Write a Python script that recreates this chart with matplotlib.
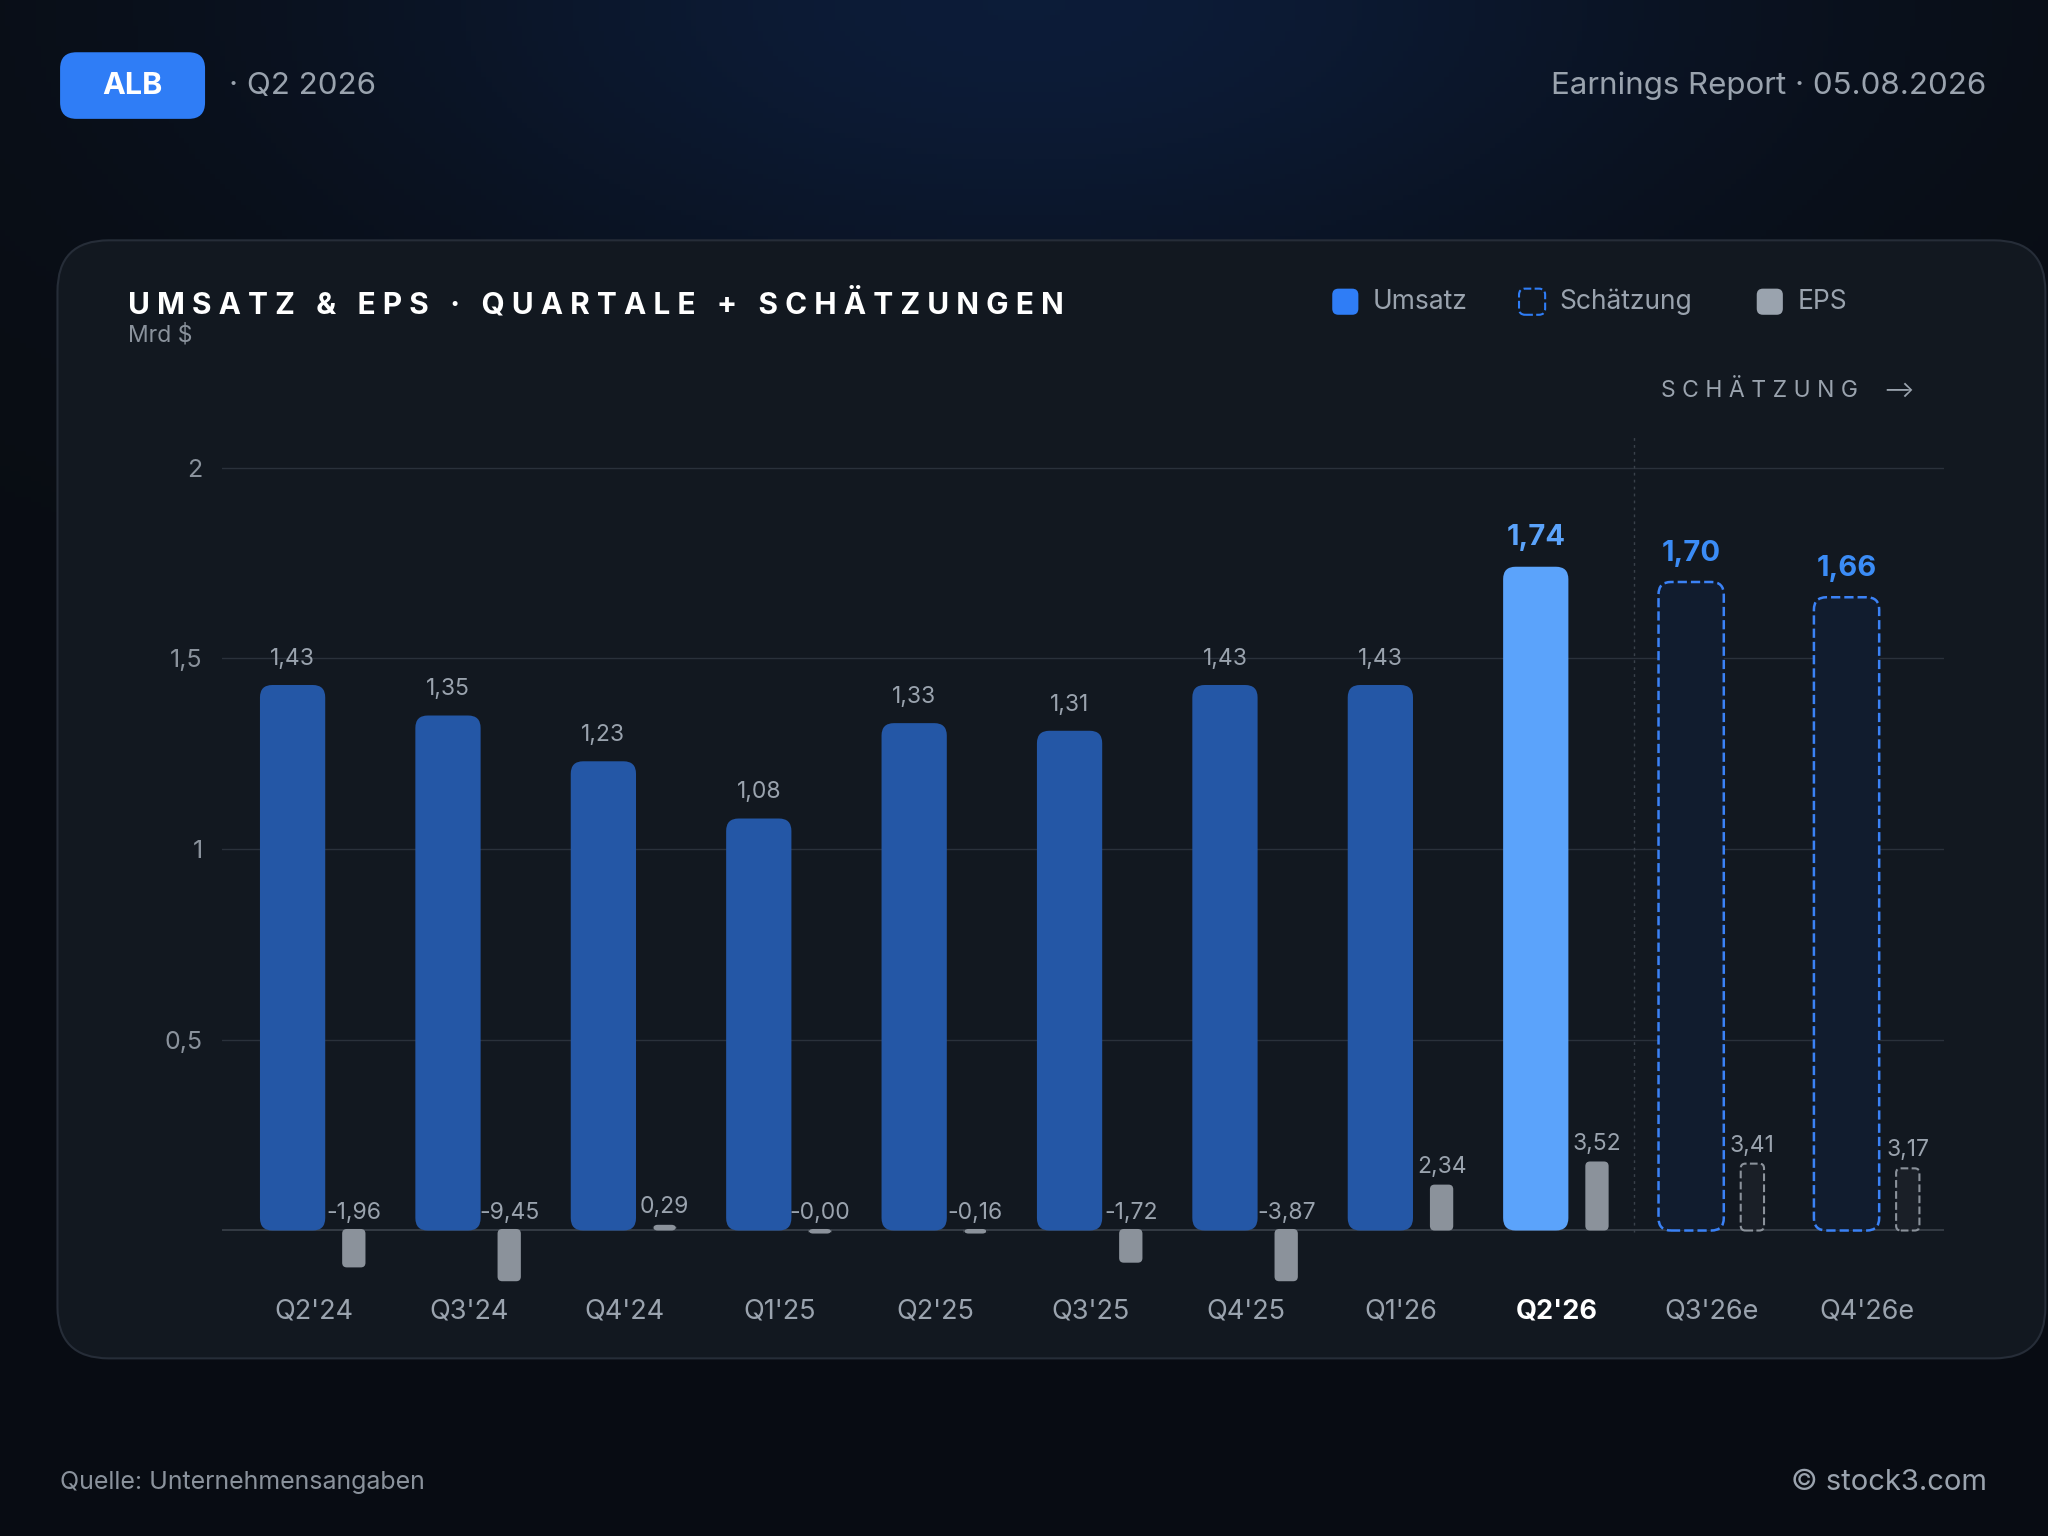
import matplotlib.pyplot as plt
import numpy as np
from matplotlib.patches import FancyBboxPatch

plt.rcParams['font.family'] = ['Inter', 'DejaVu Sans']

quarters = ["Q2'24", "Q3'24", "Q4'24", "Q1'25", "Q2'25", "Q3'25", "Q4'25", "Q1'26", "Q2'26", "Q3'26e", "Q4'26e"]
revenue = [1.43, 1.35, 1.23, 1.08, 1.33, 1.31, 1.43, 1.43, 1.74, 1.70, 1.66]
eps = [-1.96, -9.45, 0.29, -0.00, -0.16, -1.72, -3.87, 2.34, 3.52, 3.41, 3.17]
rev_labels = ["1,43", "1,35", "1,23", "1,08", "1,33", "1,31", "1,43", "1,43", "1,74", "1,70", "1,66"]
eps_labels = ["-1,96", "-9,45", "0,29", "-0,00", "-0,16", "-1,72", "-3,87", "2,34", "3,52", "3,41", "3,17"]
n_actual = 9
current = 8

W, H = 1568, 1176
def fx(px): return px / W
def fy(py): return 1 - py / H

fig = plt.figure(figsize=(20.48, 15.36), dpi=100)
# background gradient
bg = fig.add_axes([0, 0, 1, 1], zorder=-10)
bg.set_axis_off()
yy, xx = np.mgrid[0:1:300j, 0:1:400j]
glow = np.exp(-(((xx - 0.5) / 0.35) ** 2 + ((yy - 0.0) / 0.22) ** 2))
base = np.array([0.035, 0.05, 0.075])
top = np.array([0.05, 0.11, 0.22])
img = base[None, None, :] + (top - base)[None, None, :] * glow[..., None]
bg.imshow(img, extent=[0, 1, 0, 1], aspect='auto', origin='upper')
bg.set_xlim(0, 1); bg.set_ylim(0, 1)

# panel
panel = FancyBboxPatch((fx(44), fy(1040)), fx(1566) - fx(44), fy(184) - fy(1040),
                       boxstyle="round,pad=0,rounding_size=0.025", transform=fig.transFigure,
                       facecolor='#121820', edgecolor='#262d38', linewidth=1.5, mutation_aspect=W / H)
fig.patches.append(panel)

# header
badge = FancyBboxPatch((fx(46), fy(91)), fx(157) - fx(46), fy(40) - fy(91),
                       boxstyle="round,pad=0,rounding_size=0.008", transform=fig.transFigure,
                       facecolor='#2f7df6', edgecolor='none', mutation_aspect=W / H)
fig.patches.append(badge)
fig.text(fx(101), fy(66), "ALB", color='white', fontsize=22, fontweight='bold', ha='center', va='center')
fig.text(fx(175), fy(66), "· Q2 2026", color='#9aa3ae', fontsize=22.5, ha='left', va='center')
fig.text(fx(1521), fy(66), "Earnings Report · 05.08.2026", color='#9aa3ae', fontsize=22.5, ha='right', va='center')
fig.text(fx(98), fy(233), "U M S A T Z   &   E P S   ·   Q U A R T A L E   +   S C H Ä T Z U N G E N",
         color='white', fontsize=21.5, fontweight='bold', ha='left', va='center')
fig.text(fx(98), fy(257), "Mrd $", color='#8a929c', fontsize=16.5, ha='left', va='center')
fig.text(fx(46), fy(1135), "Quelle: Unternehmensangaben", color='#8a929c', fontsize=18, ha='left', va='center')
fig.text(fx(1521), fy(1135), "© stock3.com", color='#9aa3ae', fontsize=21, ha='right', va='center')
fig.text(fx(1272), fy(299), "S C H Ä T Z U N G    ⟶", color='#9aa3ae', fontsize=16.5, ha='left', va='center')

# legend
lg = [(1020, 'Umsatz', '#2f7df6', 'solid'), (1163, 'Schätzung', 'none', 'dashed'), (1345, 'EPS', '#9aa3ae', 'solid')]
for px, lab, col, ls in lg:
    p = FancyBboxPatch((fx(px), fy(241)), fx(20), fy(221) - fy(241),
                       boxstyle="round,pad=0,rounding_size=0.003", transform=fig.transFigure,
                       facecolor=col, edgecolor='#2f7df6' if ls == 'dashed' else 'none',
                       linestyle='--', linewidth=1.5, mutation_aspect=W / H)
    fig.patches.append(p)
    fig.text(fx(px + 31), fy(231), lab, color='#9aa3ae', fontsize=19, ha='left', va='center')

# chart axes
ax = fig.add_axes([fx(170), fy(990), fx(1488) - fx(170), fy(320) - fy(990)], zorder=5)
ax.set_facecolor('none')
ax.set_xlim(-0.588, 10.49)
ax.set_ylim(-0.164, 2.130)
for s in ax.spines.values():
    s.set_visible(False)
ax.set_yticks([0.5, 1, 1.5, 2])
ax.set_yticklabels(['0,5', '1', '1,5', '2'])
ax.tick_params(axis='y', colors='#8a929c', labelsize=18, length=0, pad=14)
for v in [0.5, 1, 1.5, 2]:
    ax.axhline(v, color='#2a313b', linewidth=1, zorder=0)
ax.axhline(0, color='#3a414b', linewidth=1.2, zorder=1)
ax.set_xticks(range(len(quarters)))
ax.set_xticklabels(quarters)
ax.tick_params(axis='x', colors='#9aa3ae', labelsize=19.5, length=0, pad=4)
ax.get_xticklabels()[current].set_color('white')
ax.get_xticklabels()[current].set_fontweight('bold')
ax.axvline(8.5, color='#3a414b', linestyle=(0, (2, 3)), linewidth=1, ymin=0.07, ymax=0.98)

asp = (0.5 / 146) / (1 / 119)
eps_scale = 0.0514
rw, ew = 0.42, 0.15
for i in range(len(quarters)):
    xr = i - 0.134
    r = revenue[i]
    if i < n_actual:
        fc = '#5ba3fb' if i == current else '#2457a6'
        bar = FancyBboxPatch((xr - rw / 2, 0), rw, r, boxstyle="round,pad=0,rounding_size=0.08",
                             mutation_aspect=asp, facecolor=fc, edgecolor='none', zorder=2)
    else:
        bar = FancyBboxPatch((xr - rw / 2, 0), rw, r, boxstyle="round,pad=0,rounding_size=0.08",
                             mutation_aspect=asp, facecolor='#111c2e', edgecolor='#3b82f6',
                             linestyle='--', linewidth=1.8, zorder=2)
    ax.add_patch(bar)
    if i >= current:
        ax.text(xr, r + 0.04, rev_labels[i], color='#3b8cf6' if i > current else '#5ba3fb',
                fontsize=21, fontweight='bold', ha='center', va='bottom')
    else:
        ax.text(xr, r + 0.04, rev_labels[i], color='#9aa3ae', fontsize=16.5, ha='center', va='bottom')

    xe = i + 0.26
    e = max(eps[i] * eps_scale, -0.137)
    h = e if abs(e) > 0.012 else -0.012
    y0 = min(0, h)
    if i < n_actual:
        eb = FancyBboxPatch((xe - ew / 2, y0 + (0.004 if h < 0 else 0)), ew, abs(h),
                            boxstyle="round,pad=0,rounding_size=0.03", mutation_aspect=asp,
                            facecolor='#8b929b', edgecolor='none', zorder=2)
    else:
        eb = FancyBboxPatch((xe - ew / 2, y0), ew, abs(h),
                            boxstyle="round,pad=0,rounding_size=0.03", mutation_aspect=asp,
                            facecolor='#1a1f27', edgecolor='#8b929b', linestyle='--',
                            linewidth=1.5, zorder=2)
    ax.add_patch(eb)
    ax.text(xe, max(h, 0) + 0.018, eps_labels[i], color='#9aa3ae', fontsize=16.5,
            ha='center', va='bottom')

fig.savefig('out.png', dpi=100)
